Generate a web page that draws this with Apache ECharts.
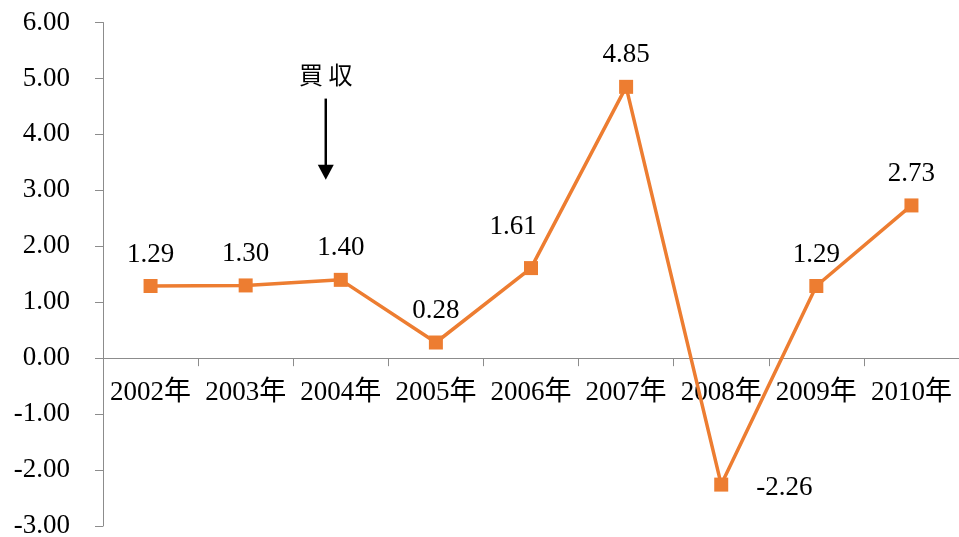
<!DOCTYPE html>
<html>
<head>
<meta charset="utf-8">
<title>年別推移</title>
<script src="https://cdn.jsdelivr.net/npm/echarts@6/dist/echarts.min.js"></script>
<style>
  html, body { margin: 0; padding: 0; background: #fff; }
  #chart { width: 959px; height: 537px; }
</style>
</head>
<body>
<div id="chart"></div>
<script>
// Yearly values
const categories = ['2002年', '2003年', '2004年', '2005年', '2006年', '2007年', '2008年', '2009年', '2010年'];
const values = [1.29, 1.30, 1.40, 0.28, 1.61, 4.85, -2.26, 1.29, 2.73];

// Value axis range
const yMin = -3;
const yMax = 6;
const yStep = 1;

// Acquisition note with a downward arrow
const noteText = '買 収';
const noteCategory = '2004年';
const noteTextValue = 5.07;
const arrowFromValue = 4.64;
const arrowToValue = 3.19;

const serif = '"Liberation Serif", "Noto Sans CJK JP", serif';
const fontSize = 27;
const lineColor = '#ED7D31';
const axisColor = '#8C8C8C';

// Per-point label placement
const labelStyles = {
  '2006年': { position: 'top', offset: [-18, -10] },
  '2008年': { position: 'right', distance: 28, offset: [0, 3] }
};

const seriesData = values.map((v, i) => {
  const item = { value: v };
  const s = labelStyles[categories[i]];
  if (s) item.label = Object.assign({}, s);
  return item;
});

const chart = echarts.init(document.getElementById('chart'), null, { renderer: 'canvas' });

chart.setOption({
  animation: false,
  backgroundColor: '#ffffff',
  grid: { left: 103, right: 0, top: 22.5, bottom: 11, containLabel: false, outerBoundsMode: 'none' },
  xAxis: {
    type: 'category',
    data: categories,
    boundaryGap: true,
    axisLine: { show: true, onZero: false, lineStyle: { color: axisColor, width: 1 } },
    axisTick: { show: true, length: 8, inside: false, lineStyle: { color: axisColor } },
    axisLabel: { color: '#000', fontFamily: serif, fontSize: fontSize, margin: 21, interval: 0 },
    splitLine: { show: false }
  },
  yAxis: {
    type: 'value',
    min: yMin,
    max: yMax,
    interval: yStep,
    axisLine: { show: true, lineStyle: { color: axisColor, width: 1 } },
    axisTick: { show: true, length: 8, lineStyle: { color: axisColor } },
    axisLabel: {
      color: '#000', fontFamily: serif, fontSize: fontSize, margin: 33,
      formatter: v => v.toFixed(2)
    },
    splitLine: { show: false }
  },
  series: [{
    type: 'line',
    data: seriesData,
    symbol: 'rect',
    symbolSize: 14,
    lineStyle: { color: lineColor, width: 3.5 },
    itemStyle: { color: lineColor },
    label: {
      show: true,
      position: 'top',
      distance: 11,
      color: '#000',
      fontFamily: serif,
      fontSize: fontSize,
      formatter: p => p.value.toFixed(2)
    }
  }]
});

// Move the category axis (line, ticks and labels) up to the zero value
function placeCategoryAxis() {
  const zeroY = chart.convertToPixel({ yAxisIndex: 0 }, 0);
  const bottomY = chart.convertToPixel({ yAxisIndex: 0 }, yMin);
  chart.setOption({ xAxis: { offset: -(bottomY - zeroY) } });
}

// Place the note and arrow from data coordinates
function drawNote() {
  const textPt = chart.convertToPixel({ gridIndex: 0 }, [noteCategory, noteTextValue]);
  const fromPt = chart.convertToPixel({ gridIndex: 0 }, [noteCategory, arrowFromValue]);
  const toPt = chart.convertToPixel({ gridIndex: 0 }, [noteCategory, arrowToValue]);
  const x = fromPt[0] - 15;
  const headH = 15, headW = 8;
  chart.setOption({
    graphic: [
      {
        type: 'text',
        x: x, y: textPt[1],
        style: {
          text: noteText,
          fill: '#000',
          font: '24px "Noto Sans CJK JP", sans-serif',
          align: 'center',
          verticalAlign: 'middle'
        }
      },
      {
        type: 'line',
        shape: { x1: x, y1: fromPt[1], x2: x, y2: toPt[1] - headH + 2 },
        style: { stroke: '#000', lineWidth: 2.5 }
      },
      {
        type: 'polygon',
        shape: { points: [[x - headW, toPt[1] - headH], [x + headW, toPt[1] - headH], [x, toPt[1]]] },
        style: { fill: '#000' }
      }
    ]
  });
}
placeCategoryAxis();
drawNote();
</script>
</body>
</html>
